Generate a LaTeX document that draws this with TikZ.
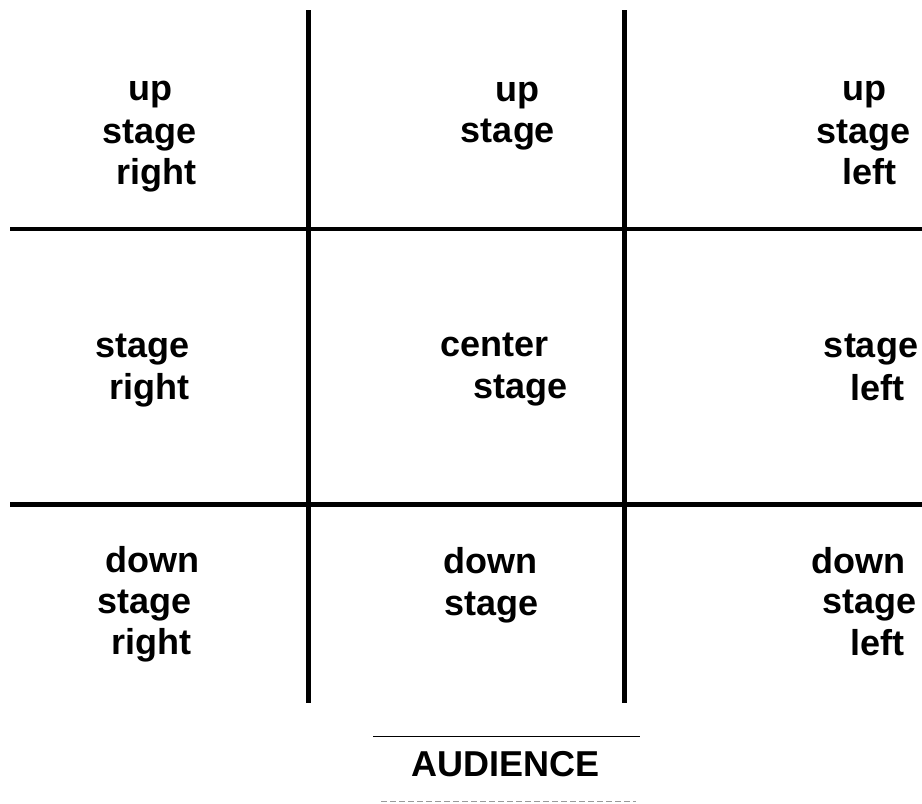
\documentclass[tikz,border=0pt]{standalone}
\usepackage{fontspec}
\setmainfont{Liberation Sans}
\begin{document}
\begin{tikzpicture}[x=1pt,y=-1pt,
  lbl/.style={anchor=base,inner sep=0pt,font=\fontsize{36}{41}\bfseries\selectfont},
  gridline/.style={line width=4.6pt,black},
  rule/.style={line width=1.8pt,black},
  dashrule/.style={line width=1.8pt,black!40,dash pattern=on 6pt off 3pt}]
\useasboundingbox (0,0) rectangle (922,804);
% grid
\coordinate (v1t) at (308.3,10); \coordinate (v1b) at (308.3,703);
\coordinate (v2t) at (624.5,10); \coordinate (v2b) at (624.5,703);
\coordinate (h1l) at (10,229); \coordinate (h1r) at (922,229);
\coordinate (h2l) at (10,504.3); \coordinate (h2r) at (922,504.3);
\draw[gridline] (v1t) -- (v1b);
\draw[gridline] (v2t) -- (v2b);
\draw[gridline] (h1l) -- (h1r);
\draw[gridline] (h2l) -- (h2r);
% upper row
\node[lbl] (ur1) at (150,100.7) {up};
\node[lbl] (ur2) at (150,143) {stage};
\node[lbl] (ur3) at (156.7,184) {right};
\node[lbl] (uc1) at (517,101.2) {up};
\node[lbl] (uc2) at (508,142) {stage};
\node[lbl] (ul1) at (864,100.7) {up};
\node[lbl] (ul2) at (863.7,143) {stage};
\node[lbl] (ul3) at (869.5,184) {left};
% middle row
\node[lbl] (mr1) at (142.5,357.3) {stage};
\node[lbl] (mr2) at (149,399.3) {right};
\node[lbl] (mc1) at (494.5,356.7) {center};
\node[lbl] (mc2) at (520.3,398.3) {stage};
\node[lbl] (ml1) at (871,357) {stage};
\node[lbl] (ml2) at (877.5,400) {left};
% lower row
\node[lbl] (dr1) at (152.5,572.7) {down};
\node[lbl] (dr2) at (144.5,613.3) {stage};
\node[lbl] (dr3) at (151,654) {right};
\node[lbl] (dc1) at (490.8,573.3) {down};
\node[lbl] (dc2) at (491.3,615) {stage};
\node[lbl] (dl1) at (858.3,573.3) {down};
\node[lbl] (dl2) at (869.7,613.3) {stage};
\node[lbl] (dl3) at (877.5,655) {left};
% audience
\coordinate (sl) at (373,736.5); \coordinate (sr) at (640,736.5);
\draw[rule] (sl) -- (sr);
\node[lbl] (aud) at (506,776) {AUDIENCE};
\coordinate (dl) at (381,801.5); \coordinate (dr) at (636,801.5);
\draw[dashrule] (dl) -- (dr);
\end{tikzpicture}
\end{document}
